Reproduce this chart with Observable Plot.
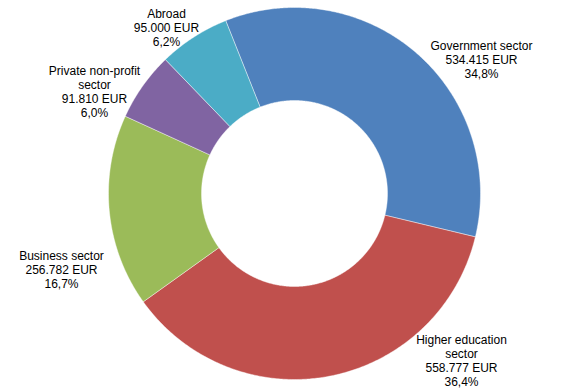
<!DOCTYPE html>
<html>
<head>
<meta charset="utf-8">
<script src="https://cdn.jsdelivr.net/npm/d3@7"></script>
<script src="https://cdn.jsdelivr.net/npm/@observablehq/plot@0.6"></script>
<style>
  html, body { margin: 0; padding: 0; background: #fff; }
  #chart svg { display: block; }
</style>
</head>
<body>
<div id="chart"></div>
<script>
// ---- data ----
const sectors = ["Government sector", "Higher education sector", "Business sector", "Private non-profit sector", "Abroad"];
const labelNames = ["Government sector", "Higher education\nsector", "Business sector", "Private non-profit\nsector", "Abroad"];
const amounts = [534415, 558777, 256782, 91810, 95000];
const colors = ["#4F81BD", "#C0504D", "#9BBB59", "#8064A2", "#4BACC6"];

// ---- layout ----
const W = 586, H = 391;
const cx = 294, cy = 193, rOuter = 186, rInner = 93;
const startDeg = -21.7;
const labelPos = [[481, 59], [461, 360], [61, 269], [94, 91], [166, 27]];

const total = d3.sum(amounts);
const pie = d3.pie().sort(null).value(d => d.amount)
  .startAngle(startDeg * Math.PI / 180)
  .endAngle((startDeg + 360) * Math.PI / 180);
const rows = sectors.map((s, i) => ({sector: s, amount: amounts[i], label: labelNames[i], i}));
const arcs = pie(rows);

const pts = [];
for (const a of arcs) {
  const n = Math.max(2, Math.ceil((a.endAngle - a.startAngle) / (Math.PI / 360)));
  const ring = [];
  for (let k = 0; k <= n; k++) {
    const t = a.startAngle + (a.endAngle - a.startAngle) * k / n;
    ring.push({sector: a.data.sector, x: cx + rOuter * Math.sin(t), y: cy - rOuter * Math.cos(t)});
  }
  for (let k = n; k >= 0; k--) {
    const t = a.startAngle + (a.endAngle - a.startAngle) * k / n;
    ring.push({sector: a.data.sector, x: cx + rInner * Math.sin(t), y: cy - rInner * Math.cos(t)});
  }
  ring.push(ring[0]);
  pts.push(...ring);
}

const fmtNum = v => d3.format(",")(v).replace(/,/g, ".");
const fmtPct = v => (Math.round(v * 1000) / 10).toFixed(1).replace(".", ",") + "%";
const labels = rows.map((r, i) => ({
  x: labelPos[i][0], y: labelPos[i][1],
  text: `${r.label}\n${fmtNum(r.amount)} EUR\n${fmtPct(r.amount / total)}`
}));

const chart = Plot.plot({
  width: W, height: H,
  margin: 0,
  x: {domain: [0, W], range: [0, W], axis: null},
  y: {domain: [0, H], range: [0, H], axis: null},
  color: {domain: sectors, range: colors},
  style: {fontFamily: "'Liberation Sans', Arial, sans-serif", fontSize: "12px", background: "#fff"},
  marks: [
    Plot.line(pts, {x: "x", y: "y", z: "sector", fill: "sector", stroke: "white", strokeWidth: 0.6, strokeOpacity: 0.7}),
    Plot.text(labels, {x: "x", y: "y", text: "text", textAnchor: "middle", lineAnchor: "middle", lineHeight: 1.17, fill: "#000", fontSize: 12})
  ]
});
document.getElementById("chart").appendChild(chart);
</script>
</body>
</html>
